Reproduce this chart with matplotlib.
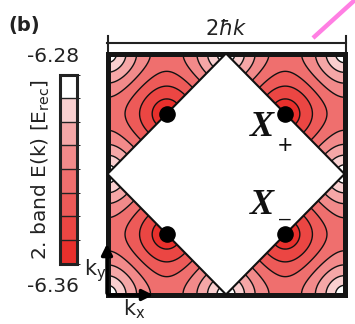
import numpy as np
import matplotlib
matplotlib.use("Agg")
import matplotlib.pyplot as plt
from matplotlib.colors import ListedColormap, BoundaryNorm
from matplotlib.patches import Polygon, FancyArrowPatch

# ---------------- data ----------------
e_min, e_max = -6.36, -6.28          # colorbar range [E_rec]
n_bins = 8
level_values = np.linspace(e_min, e_max, n_bins + 1)
bin_colors = ["#e8302c", "#eb4643", "#ed5a58", "#ef6f6e",
              "#f28a8a", "#f5a7a7", "#f9cfcf", "#ffffff"]   # low -> high
cbar_top_label = "-6.28"
cbar_bottom_label = "-6.36"
cbar_title = r"2. band E(k) [E$_{\rm rec}$]"
# band model: minima at the X points, maxima at the zone corners
saddle_exponent = 1.18
x_points_kx = [-0.25, 0.25, -0.25, 0.25]
x_points_ky = [0.25, 0.25, -0.25, -0.25]
diamond_kx = [0.0, 0.5, 0.0, -0.5]
diamond_ky = [0.5, 0.0, -0.5, 0.0]

W, H = 355, 324
def fx(p): return p / W
def fy(p): return 1 - p / H

fig = plt.figure(figsize=(W / 100, H / 100), dpi=100)
plt.rcParams['font.family'] = ['DejaVu Sans']

# ---------------- main panel ----------------
L, R, T, B = 107.5, 344.5, 53.5, 294.5
ax = fig.add_axes([fx(L), fy(B), fx(R) - fx(L), fy(T) - fy(B)])
kx = np.linspace(-0.5, 0.5, 701)
ky = np.linspace(-0.5, 0.5, 701)
KX, KY = np.meshgrid(kx, ky)
u = (np.cos(4 * np.pi * KX) + np.cos(4 * np.pi * KY) + 2) / 4
v = (2 / np.pi * np.arcsin(np.sqrt(np.clip(u, 0, 1)))) ** saddle_exponent
E = e_min + (e_max - e_min) * v
E = np.clip(E, e_min + 1e-6, e_max - 1e-6)
inside = (np.abs(KX) + np.abs(KY)) < 0.5
Em = np.ma.array(E, mask=inside)
cmap = ListedColormap(bin_colors)
norm = BoundaryNorm(level_values, cmap.N)
ax.contourf(KX, KY, Em, levels=level_values, cmap=cmap, norm=norm)
ax.contour(KX, KY, Em, levels=level_values[1:-1], colors='#111111',
           linewidths=1.0, linestyles='solid')
ax.add_patch(Polygon(list(zip(diamond_kx, diamond_ky)), closed=True,
                     facecolor='white', edgecolor='#111111', lw=1.5, zorder=3))
ax.scatter(x_points_kx, x_points_ky, s=120, color='black', zorder=5)
ax.set_xlim(-0.5, 0.5)
ax.set_ylim(-0.5, 0.5)
ax.set_xticks([]); ax.set_yticks([])
for s in ax.spines.values():
    s.set_linewidth(3.6)
    s.set_color('#151515')

# X labels
fig.text(fx(262), fy(128), "X", family='Liberation Serif', weight='bold',
         style='italic', fontsize=26, ha='center', va='center', color='#111')
fig.text(fx(285), fy(146), "+", family='Liberation Sans', fontsize=18,
         ha='center', va='center', color='#111')
fig.text(fx(262), fy(205), "X", family='Liberation Serif', weight='bold',
         style='italic', fontsize=26, ha='center', va='center', color='#111')
fig.text(fx(285), fy(219), "\u2013", family='Liberation Sans', fontsize=15,
         ha='center', va='center', color='#111')

# dimension line 2ħk
fig.add_artist(plt.Line2D([fx(107), fx(346)], [fy(43), fy(43)], color='#222', lw=1.5))
fig.add_artist(plt.Line2D([fx(108), fx(108)], [fy(36), fy(51)], color='#222', lw=1.5))
fig.add_artist(plt.Line2D([fx(345.5), fx(345.5)], [fy(36), fy(51)], color='#222', lw=1.5))
fig.text(fx(226), fy(29), r"$2\hbar k$", fontsize=15, ha='center', va='center', color='#222')

# pink line
fig.add_artist(plt.Line2D([fx(313), fx(356)], [fy(38), fy(-1)], color='#ff7fe3', lw=3.2,
                          solid_capstyle='butt'))

# k axes arrows
fig.add_artist(FancyArrowPatch((fx(107), fy(296)), (fx(107), fy(241)),
               transform=fig.transFigure, arrowstyle='-|>', mutation_scale=16,
               color='black', lw=2.5))
fig.add_artist(FancyArrowPatch((fx(106), fy(295)), (fx(156), fy(295)),
               transform=fig.transFigure, arrowstyle='-|>', mutation_scale=16,
               color='black', lw=2.5))
fig.text(fx(95), fy(271), r"k$_{\rm y}$", fontsize=15, ha='center', va='center', color='#222')
fig.text(fx(134), fy(309), r"k$_{\rm x}$", fontsize=15, ha='center', va='center', color='#222')

# ---------------- colorbar ----------------
cax = fig.add_axes([fx(59.5), fy(263.5), fx(76.5) - fx(59.5), fy(74.5) - fy(263.5)])
cb = fig.colorbar(matplotlib.cm.ScalarMappable(norm=norm, cmap=cmap), cax=cax,
                  drawedges=True)
cb.set_ticks([])
cb.outline.set_linewidth(2.2)
cb.outline.set_color('#222')
cb.dividers.set_color('#222')
cb.dividers.set_linewidth(1.0)
fig.text(fx(53), fy(57), cbar_top_label, fontsize=14.5, ha='center', va='center', color='#222')
fig.text(fx(53), fy(287), cbar_bottom_label, fontsize=14.5, ha='center', va='center', color='#222')
fig.text(fx(41), fy(170), cbar_title, fontsize=14.5, rotation=90, ha='center',
         va='center', color='#222')
fig.text(fx(8), fy(25), "(b)", fontsize=14, weight='bold', ha='left', va='center', color='#222')

fig.savefig("out.png", dpi=100)
